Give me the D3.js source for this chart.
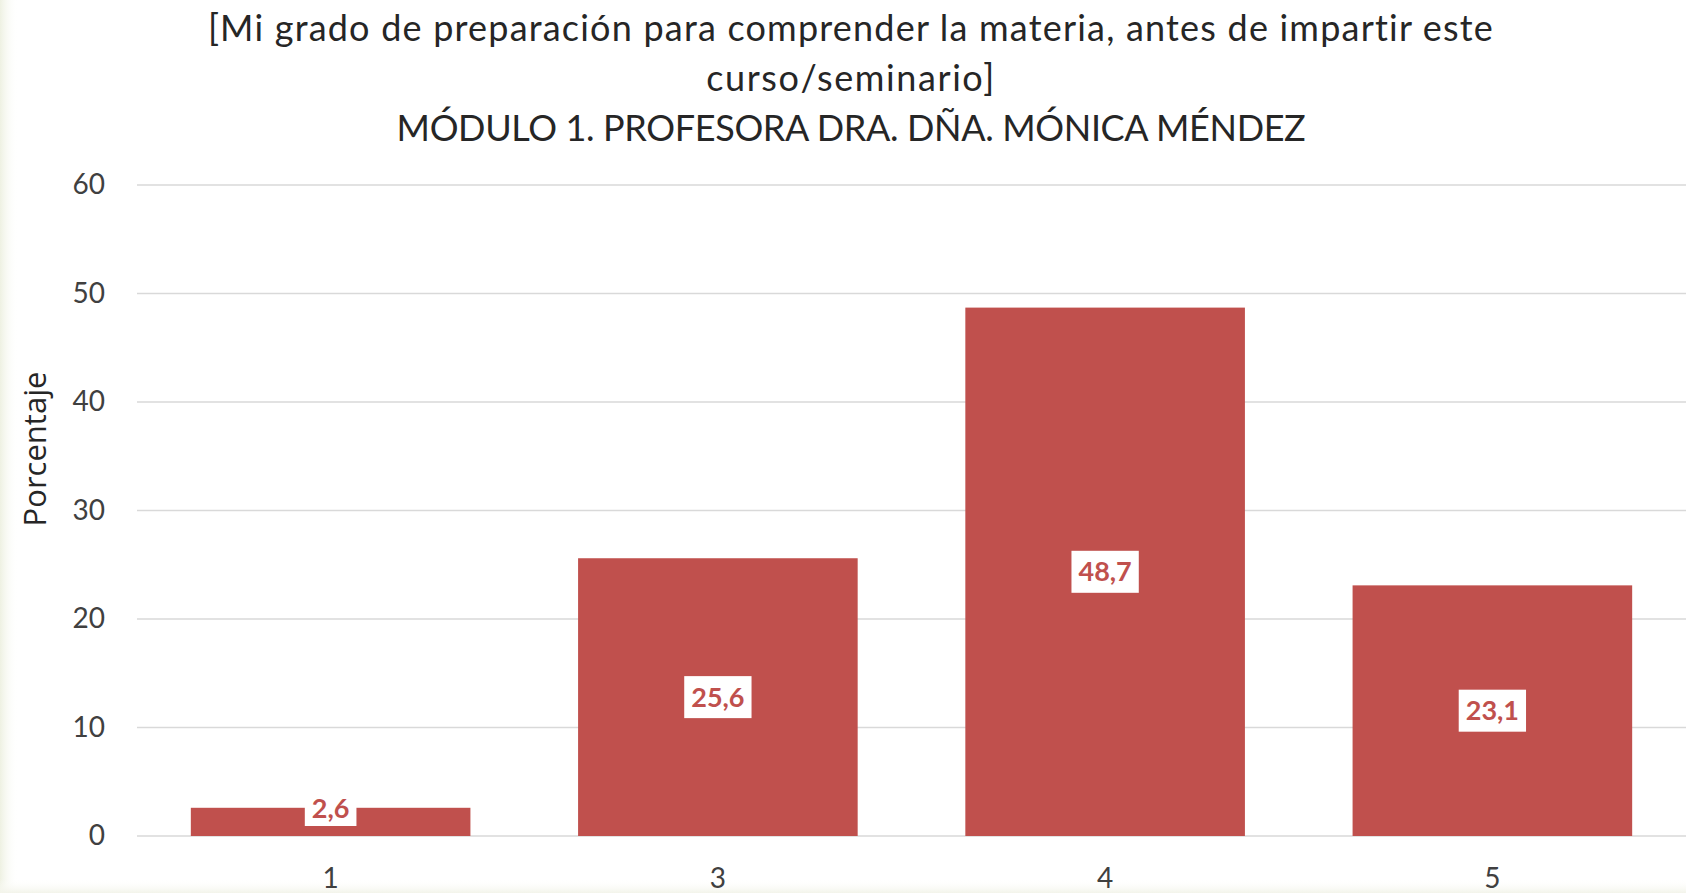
<!DOCTYPE html>
<html>
<head>
    <meta charset="utf-8">
    <title>Grado de preparación</title>
    <script src="https://cdnjs.cloudflare.com/ajax/libs/d3/7.8.5/d3.min.js"></script>
    <style>
        body { margin: 0; background: #ffffff; }
        #chart { width: 1686px; height: 893px; }
    </style>
</head>
<body>
    <div id="chart"></div>
    <script>
        // data
        const categories = ["1", "3", "4", "5"];
        const values = [2.6, 25.6, 48.7, 23.1];
        const yTicks = [0, 10, 20, 30, 40, 50, 60];
        const titleLines = [
            "[Mi grado de preparación para comprender la materia, antes de impartir este",
            "curso/seminario]",
            "MÓDULO 1. PROFESORA DRA. DÑA. MÓNICA MÉNDEZ"
        ];

        const width = 1686;
        const height = 893;
        const margin = {top: 185, right: 0, bottom: 57, left: 137};
        const barColor = "#c0504d";
        const font = "Lato, 'Open Sans', sans-serif";

        const svg = d3.select("#chart")
            .append("svg")
            .attr("width", width)
            .attr("height", height);

        // faint tinted border of the slide
        const defs = svg.append("defs");
        const gl = defs.append("linearGradient").attr("id", "leftTint");
        gl.append("stop").attr("offset", "0%").attr("stop-color", "#eef1e2");
        gl.append("stop").attr("offset", "100%").attr("stop-color", "#ffffff").attr("stop-opacity", 0);
        const gb = defs.append("linearGradient").attr("id", "bottomTint")
            .attr("x1", 0).attr("y1", 0).attr("x2", 0).attr("y2", 1);
        gb.append("stop").attr("offset", "0%").attr("stop-color", "#ffffff").attr("stop-opacity", 0);
        gb.append("stop").attr("offset", "100%").attr("stop-color", "#f3f4ea");
        svg.append("rect").attr("width", 18).attr("height", height).attr("fill", "url(#leftTint)");
        svg.append("rect").attr("y", height - 14).attr("width", width).attr("height", 14).attr("fill", "url(#bottomTint)");

        const x = d3.scaleBand()
            .domain(categories)
            .range([margin.left, width - margin.right])
            .paddingInner(0.278)
            .paddingOuter(0.139);

        const y = d3.scaleLinear()
            .domain([0, 60])
            .range([height - margin.bottom, margin.top]);

        // gridlines
        svg.append("g")
            .selectAll("line")
            .data(yTicks)
            .join("line")
            .attr("x1", margin.left)
            .attr("x2", width)
            .attr("y1", d => y(d))
            .attr("y2", d => y(d))
            .attr("stroke", "#d9d9d9")
            .attr("stroke-width", 1.5);

        // y axis labels
        const yAxis = svg.append("g")
            .attr("transform", `translate(${margin.left - 32},0)`)
            .call(d3.axisLeft(y).tickValues(yTicks).tickSize(0).tickPadding(0));
        yAxis.select(".domain").remove();
        yAxis.selectAll("text")
            .attr("font-family", font)
            .attr("font-size", 28)
            .attr("fill", "#404040");

        // x axis labels
        const xAxis = svg.append("g")
            .attr("transform", `translate(0,${y(0)})`)
            .call(d3.axisBottom(x).tickSize(0).tickPadding(32));
        xAxis.select(".domain").remove();
        xAxis.selectAll("text")
            .attr("font-family", font)
            .attr("font-size", 28)
            .attr("fill", "#404040");

        // bars
        svg.append("g")
            .selectAll("rect")
            .data(values)
            .join("rect")
            .attr("x", (d, i) => x(categories[i]))
            .attr("y", d => y(d))
            .attr("width", x.bandwidth())
            .attr("height", d => y(0) - y(d))
            .attr("fill", barColor);

        // data labels in white boxes
        const boxH = 42;
        const labels = svg.append("g")
            .selectAll("g")
            .data(values)
            .join("g")
            .attr("transform", (d, i) => {
                const cx = x(categories[i]) + x.bandwidth() / 2;
                const cy = Math.min((y(d) + y(0)) / 2, y(0) - boxH / 2 - 6);
                return `translate(${cx},${cy})`;
            });
        labels.append("rect").attr("fill", "#ffffff");
        labels.append("text")
            .attr("text-anchor", "middle")
            .attr("dy", "0.35em")
            .attr("font-family", font)
            .attr("font-weight", "bold")
            .attr("font-size", 27)
            .attr("fill", barColor)
            .text(d => d3.format(".1f")(d).replace(".", ","));
        labels.each(function(d) {
            const g = d3.select(this);
            const w = g.select("text").node().getComputedTextLength() + 14;
            // the small bar's box is cut to the text, as in the source
            const h = d < 5 ? 34 : boxH;
            g.select("rect")
                .attr("x", -w / 2)
                .attr("y", -h / 2)
                .attr("width", w)
                .attr("height", h);
        });

        // y axis title
        svg.append("text")
            .attr("transform", "translate(35,449) rotate(-90)")
            .attr("text-anchor", "middle")
            .attr("dy", "0.35em")
            .attr("font-family", "'Open Sans', sans-serif")
            .attr("font-size", 31)
            .attr("fill", "#262626")
            .text("Porcentaje");

        // title
        const titleSpacing = [1.2, 1.6, -0.35];
        svg.append("g")
            .selectAll("text")
            .data(titleLines)
            .join("text")
            .attr("x", 851)
            .attr("y", (d, i) => 28 + i * 50)
            .attr("dy", "0.35em")
            .attr("text-anchor", "middle")
            .attr("font-family", font)
            .attr("font-size", 36)
            .attr("letter-spacing", (d, i) => titleSpacing[i])
            .attr("fill", "#262626")
            .text(d => d);
    </script>
</body>
</html>
